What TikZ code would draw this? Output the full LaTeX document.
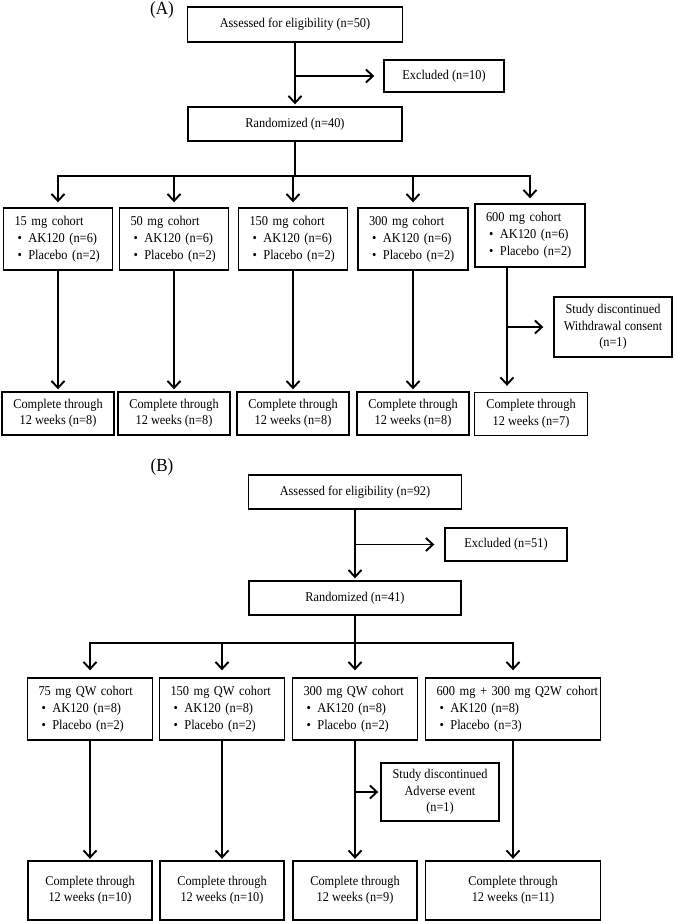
\documentclass[tikz,border=0pt]{standalone}
\usepackage{fontspec}
\setmainfont[FakeStretch=0.92]{Liberation Serif}
\usetikzlibrary{arrows.meta}
\newcommand{\cbul}[1]{\mbox{\hspace*{14pt}\textbullet\hspace{6.5pt}#1}}
\newcommand{\chd}[1]{\mbox{\hspace*{11pt}#1}}
\begin{document}
\begin{tikzpicture}[x=1pt,y=-1pt,
  box/.style={draw,line width=1.4pt,inner sep=0pt,align=center,font=\fontsize{13.4}{16.5}\selectfont},
  cbox/.style={draw,line width=1.4pt,inner sep=0pt,align=left,font=\fontsize{13.5}{17}\selectfont},
  conn/.style={line width=1.9pt,line cap=rect},
  arr/.style={line width=1.9pt,-{Straight Barb[length=7pt,width=13pt]}},
  lbl/.style={inner sep=0pt,font=\fontsize{18.5}{20}\selectfont}]
\useasboundingbox (0,0) rectangle (675,921);
% ---------------- (A) ----------------
\node[lbl] (lblA) at (162,10) {(A)};
\node[box,minimum width=215pt,minimum height=35pt] (assA) at (295,24.5) {Assessed for eligibility (n=50)};
\node[box,minimum width=120pt,minimum height=32pt] (excA) at (444,76) {Excluded (n=10)};
\node[box,minimum width=214pt,minimum height=34pt] (randA) at (295,124) {Randomized (n=40)};
\coordinate (hA) at (295,176);
\node[cbox,text width=109pt,minimum height=62pt] (cA1) at (58,239) {\chd{15 mg cohort}\\\cbul{AK120 (n=6)}\\\cbul{Placebo (n=2)}};
\node[cbox,text width=109pt,minimum height=62pt] (cA2) at (174,239) {\chd{50 mg cohort}\\\cbul{AK120 (n=6)}\\\cbul{Placebo (n=2)}};
\node[cbox,text width=109pt,minimum height=62pt] (cA3) at (293,239) {\chd{150 mg cohort}\\\cbul{AK120 (n=6)}\\\cbul{Placebo (n=2)}};
\node[cbox,text width=110pt,minimum height=62pt] (cA4) at (413,239) {\chd{300 mg cohort}\\\cbul{AK120 (n=6)}\\\cbul{Placebo (n=2)}};
\node[cbox,text width=110pt,minimum height=63pt] (cA5) at (530,235.5) {\chd{600 mg cohort}\\\cbul{AK120 (n=6)}\\\cbul{Placebo (n=2)}};
\node[box,minimum width=118pt,minimum height=60pt] (disA) at (613,327) {Study discontinued\\Withdrawal consent\\(n=1)};
\node[box,minimum width=112pt,minimum height=43pt] (cpA1) at (58,413.5) {Complete through\\12 weeks (n=8)};
\node[box,minimum width=112pt,minimum height=43pt] (cpA2) at (174,413.5) {Complete through\\12 weeks (n=8)};
\node[box,minimum width=112pt,minimum height=43pt] (cpA3) at (293,413.5) {Complete through\\12 weeks (n=8)};
\node[box,minimum width=112pt,minimum height=43pt] (cpA4) at (413,413.5) {Complete through\\12 weeks (n=8)};
\node[box,minimum width=113pt,minimum height=43pt] (cpA5) at (531,414) {Complete through\\12 weeks (n=7)};
\coordinate (vA5) at ([xshift=-23pt]cA5.south);
% connectors A
\draw[arr,shorten >=2pt] (assA.south) -- (randA.north);
\draw[arr,shorten >=9pt] (assA.south |- excA.west) -- (excA.west);
\draw[conn] (randA.south) -- (hA);
\draw[conn] (cA1.north |- hA) -- (cA5.north |- hA);
\foreach \n in {cA1,cA2,cA3,cA4,cA5}{
  \draw[arr,shorten >=5pt] (\n.north |- hA) -- (\n.north);
}
\foreach \a/\b in {cA1/cpA1,cA2/cpA2,cA3/cpA3,cA4/cpA4}{
  \draw[arr,shorten >=2pt] (\a.south) -- (\b.north);
}
\draw[arr,shorten >=6pt] (vA5) -- (vA5 |- cpA5.north);
\draw[arr,shorten >=10pt] (vA5 |- disA.west) -- (disA.west);
% ---------------- (B) ----------------
\node[lbl] (lblB) at (162,467) {(B)};
\node[box,minimum width=213pt,minimum height=34pt] (assB) at (355,492) {Assessed for eligibility (n=92)};
\node[box,minimum width=122pt,minimum height=33pt] (excB) at (506,544.5) {Excluded (n=51)};
\node[box,minimum width=212pt,minimum height=34pt] (randB) at (355,598) {Randomized (n=41)};
\coordinate (hB) at (355,643);
\node[cbox,text width=125pt,minimum height=62pt] (cB1) at (90,709) {\chd{75 mg QW cohort}\\\cbul{AK120 (n=8)}\\\cbul{Placebo (n=2)}};
\node[cbox,text width=125pt,minimum height=62pt] (cB2) at (222,709) {\chd{150 mg QW cohort}\\\cbul{AK120 (n=8)}\\\cbul{Placebo (n=2)}};
\node[cbox,text width=125pt,minimum height=62pt] (cB3) at (355,709) {\chd{300 mg QW cohort}\\\cbul{AK120 (n=8)}\\\cbul{Placebo (n=2)}};
\node[cbox,text width=175pt,minimum height=62pt] (cB4) at (513,709) {\chd{600 mg + 300 mg Q2W cohort}\\\cbul{AK120 (n=8)}\\\cbul{Placebo (n=3)}};
\node[box,minimum width=118pt,minimum height=58pt] (disB) at (440,792) {Study discontinued\\Adverse event\\(n=1)};
\node[box,minimum width=124pt,minimum height=59pt] (cpB1) at (90,890.5) {Complete through\\12 weeks (n=10)};
\node[box,minimum width=124pt,minimum height=59pt] (cpB2) at (222,890.5) {Complete through\\12 weeks (n=10)};
\node[box,minimum width=124pt,minimum height=59pt] (cpB3) at (355,890.5) {Complete through\\12 weeks (n=9)};
\node[box,minimum width=175pt,minimum height=59pt] (cpB4) at (513,890.5) {Complete through\\12 weeks (n=11)};
% connectors B
\draw[arr,shorten >=2pt] (assB.south) -- (randB.north);
\draw[arr,shorten >=10pt] (assB.south |- excB.west) -- (excB.west);
\draw[conn] (randB.south) -- (hB);
\draw[conn] (cB1.north |- hB) -- (cB4.north |- hB);
\foreach \n in {cB1,cB2,cB3,cB4}{
  \draw[arr,shorten >=7pt] (\n.north |- hB) -- (\n.north);
}
\foreach \a/\b in {cB1/cpB1,cB2/cpB2,cB3/cpB3,cB4/cpB4}{
  \draw[arr,shorten >=1.5pt] (\a.south) -- (\b.north);
}
\draw[arr,shorten >=2pt] (cB3.south |- disB.west) -- (disB.west);
\end{tikzpicture}
\end{document}
